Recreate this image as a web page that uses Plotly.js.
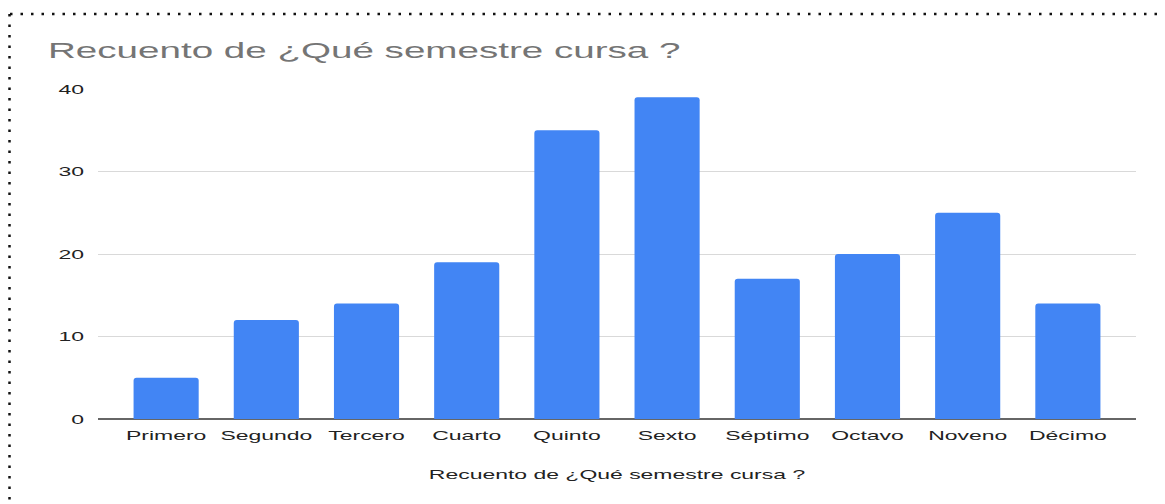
<!DOCTYPE html>
<html><head><meta charset="utf-8">
<script src="https://cdn.plot.ly/plotly-3.0.1.min.js"></script>
<style>html,body{margin:0;padding:0;background:#fff;}#chart{width:1165px;height:504px;}</style>
</head><body><div id="chart"></div>
<script>
const categories = ["Primero","Segundo","Tercero","Cuarto","Quinto","Sexto","Séptimo","Octavo","Noveno","Décimo"];
const counts = [5, 12, 14, 19, 35, 39, 17, 20, 25, 14];
const yTicks = [0, 10, 20, 30, 40];
const chartTitle = "Recuento de ¿Qué semestre cursa ?";
const xTitle = "Recuento de ¿Qué semestre cursa ?";

const L = 98, R = 29, T = 89, B = 85, W = 1165, H = 504;
const pw = W - L - R, ph = H - T - B;
const px = v => (v - L) / pw;
const py = v => (H - B - v) / ph;
const STRETCH = 1.7;

const font = "Liberation Sans, Arial, sans-serif";
const gd = document.getElementById("chart");
Plotly.newPlot(gd, [{
  type: "bar",
  x: categories,
  y: counts,
  marker: {color: "#4285f4", cornerradius: 3},
  hoverinfo: "x+y"
}], {
  width: W, height: H,
  margin: {l: L, r: R, t: T, b: B},
  paper_bgcolor: "#fff", plot_bgcolor: "#fff",
  bargap: 0.35,
  showlegend: false,
  title: {text: chartTitle, font: {family: font, size: 22.7, color: "#757575"},
          x: 48 / W, xanchor: "left", xref: "container", y: 1 - 50 / H, yanchor: "middle", yref: "container"},
  xaxis: {
    range: [-0.68, 9.68], fixedrange: true,
    tickfont: {family: font, size: 13.5, color: "#222"},
    showgrid: false, showline: false, ticks: "",
    ticklabelstandoff: 6,
    title: {text: xTitle, font: {family: font, size: 13.5, color: "#222"}, standoff: 28}
  },
  yaxis: {
    range: [0, 40], tickvals: yTicks, fixedrange: true,
    tickfont: {family: font, size: 13.5, color: "#222"},
    gridcolor: "#d9d9d9", gridwidth: 1,
    zeroline: true, zerolinecolor: "#666", zerolinewidth: 1.5,
    ticklabelstandoff: 13
  },
  shapes: [
    {type: "line", xref: "paper", yref: "paper", x0: px(10), x1: px(1165), y0: py(14), y1: py(14),
     line: {color: "#111", width: 2.5, dash: "2.5px,8px"}},
    {type: "line", xref: "paper", yref: "paper", x0: px(9.5), x1: px(9.5), y0: py(14), y1: py(504),
     line: {color: "#111", width: 2.5, dash: "2.5px,8px"}}
  ]
}, {displayModeBar: false, staticPlot: true}).then(() => {
  gd.querySelectorAll(".xtick text, .ytick text, text.gtitle, text.xtitle").forEach(t => {
    const w = t.getComputedTextLength();
    t.setAttribute("textLength", (w * STRETCH).toFixed(1));
    t.setAttribute("lengthAdjust", "spacingAndGlyphs");
  });
});
</script></body></html>
